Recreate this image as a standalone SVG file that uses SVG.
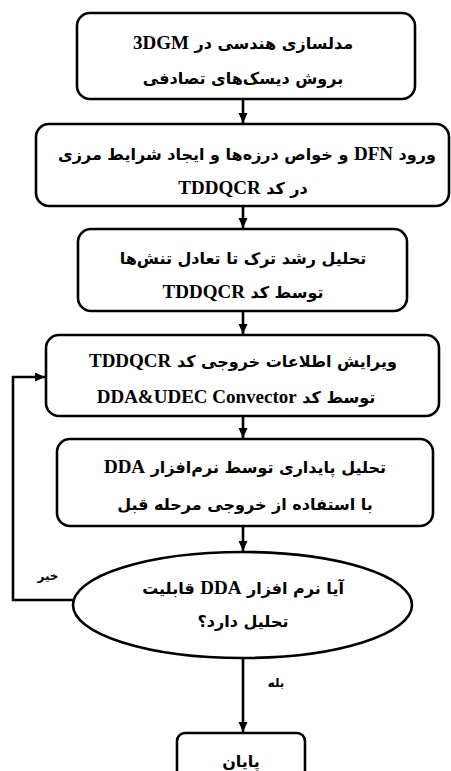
<svg xmlns="http://www.w3.org/2000/svg" width="451" height="771" viewBox="0 0 451 771">
<defs>
<marker id="ah" markerWidth="10" markerHeight="10" refX="10" refY="4.5" orient="auto" markerUnits="userSpaceOnUse">
<path d="M0,0 L10,4.5 L0,9 z" fill="#000"/>
</marker>
<style>
.box{fill:#fff;stroke:#000;stroke-width:2.6}
.t{font-family:'DejaVu Sans','Liberation Serif',sans-serif;font-weight:bold;font-size:16px;text-anchor:middle;direction:rtl;fill:#000}
.l{font-family:'Liberation Serif',serif;font-size:19px}
.s{font-family:'DejaVu Sans',sans-serif;font-weight:bold;font-size:12px;text-anchor:middle;direction:rtl;fill:#000}
.c{fill:none;stroke:#000;stroke-width:2.6}
</style>
</defs>
<rect width="451" height="771" fill="#fff"/>
<g id="connectors">
<line class="c" x1="243" y1="99" x2="243" y2="123" marker-end="url(#ah)"/>
<line class="c" x1="243" y1="206" x2="243" y2="228" marker-end="url(#ah)"/>
<line class="c" x1="243" y1="311" x2="243" y2="334" marker-end="url(#ah)"/>
<line class="c" x1="243" y1="416" x2="243" y2="438" marker-end="url(#ah)"/>
<line class="c" x1="243" y1="526" x2="243" y2="551" marker-end="url(#ah)"/>
<line class="c" x1="243" y1="658" x2="243" y2="732" marker-end="url(#ah)"/>
<polyline class="c" points="74,600 13,600 13,377 45,377" marker-end="url(#ah)"/>
<text class="s" x="48" y="580">خیر</text>
<text class="s" x="276" y="687">بله</text>
</g>
<g id="n1">
<rect class="box" x="77" y="13" width="338" height="86" rx="13"/>
<text class="t" x="243" y="49">مدلسازی هندسی در <tspan class="l">3DGM</tspan></text>
<text class="t" x="243" y="84">بروش دیسک‌های تصادفی</text>
</g>
<g id="n2">
<rect class="box" x="36" y="124" width="413" height="82" rx="13"/>
<text class="t" x="247" y="160">ورود <tspan class="l">DFN</tspan> و خواص درزه‌ها و ایجاد شرایط مرزی</text>
<text class="t" x="243" y="194">در کد <tspan class="l">TDDQCR</tspan></text>
</g>
<g id="n3">
<rect class="box" x="78" y="229" width="329" height="82" rx="13"/>
<text class="t" x="243" y="264">تحلیل رشد ترک تا تعادل تنش‌ها</text>
<text class="t" x="243" y="298">توسط کد <tspan class="l">TDDQCR</tspan></text>
</g>
<g id="n4">
<rect class="box" x="46" y="335" width="393" height="81" rx="13"/>
<text class="t" x="243" y="367">ویرایش اطلاعات خروجی کد <tspan class="l">TDDQCR</tspan></text>
<text class="t" x="236" y="403">توسط کد <tspan class="l">DDA&amp;UDEC Convector</tspan></text>
</g>
<g id="n5">
<rect class="box" x="57" y="439" width="376" height="87" rx="13"/>
<text class="t" x="245" y="473">تحلیل پایداری توسط نرم‌افزار <tspan class="l">DDA</tspan></text>
<text class="t" x="245" y="510">با استفاده از خروجی مرحله قبل</text>
</g>
<g id="n6">
<ellipse class="box" cx="242.5" cy="605" rx="169.5" ry="53"/>
<text class="t" x="243" y="594">آیا نرم افزار <tspan class="l">DDA</tspan> قابلیت</text>
<text class="t" x="243" y="627">تحلیل دارد؟</text>
</g>
<g id="n7">
<rect class="box" x="177" y="733" width="128" height="60" rx="8"/>
<text class="t" x="241" y="767">پایان</text>
</g>
</svg>
